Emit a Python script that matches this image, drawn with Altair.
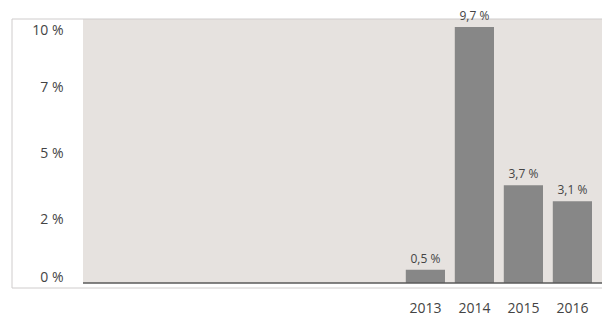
import altair as alt
import pandas as pd

years = ["2013", "2014", "2015", "2016"]
values = [0.5, 9.7, 3.7, 3.1]
y_ticks = [0, 2.5, 5, 7.5, 10]

df = pd.DataFrame({"year": years, "value": values})

W, H = 519, 264
FONT = "Open Sans"
TXT = "#444444"

xscale = alt.Scale(domain=years, paddingInner=0.2, paddingOuter=0, range=[322.8, 509])
yscale = alt.Scale(domain=[0, 10], nice=False)

frame = alt.Chart(pd.DataFrame({"k": [0]})).mark_rect(
    fillOpacity=0, stroke="#cfcccc", strokeWidth=1
).encode(
    x=alt.value(-71), x2=alt.value(W + 40), y=alt.value(0), y2=alt.value(H + 5)
)

base = alt.Chart(df).encode(
    x=alt.X("year:N", scale=xscale, sort=years,
            axis=alt.Axis(title=None, labelAngle=0, ticks=False, domain=False,
                          labelFontSize=14, labelColor=TXT, labelFont=FONT,
                          labelPadding=18)),
    y=alt.Y("value:Q", scale=yscale,
            axis=alt.Axis(title=None, values=y_ticks, grid=False, ticks=False, tickSize=0,
                          domain=False, labelExpr="floor(datum.value) + ' %'",
                          labelFontSize=14, labelColor=TXT, labelFont=FONT,
                          labelPadding=20, labelFlush=False,
                          labelOffset={"condition": [
                              {"test": "datum.value === 10", "value": 11},
                              {"test": "datum.value === 0", "value": -6}],
                              "value": 2})),
)

baseline = alt.Chart(pd.DataFrame({"k": [0]})).mark_rule(
    color="#5a5a5a", strokeWidth=1.5
).encode(x=alt.value(0), x2=alt.value(W), y=alt.value(H))

bars = base.mark_bar(color="#878787")

labels = base.transform_calculate(
    lbl="replace(format(datum.value, '.1f'), '.', ',') + ' %'"
).mark_text(baseline="bottom", dy=-4, fontSize=12, color=TXT, font=FONT).encode(
    text="lbl:N"
)

chart = alt.layer(frame, bars, baseline, labels).properties(
    width=W, height=H,
    autosize=alt.AutoSizeParams(type="none"),
    padding={"left": 75, "top": 11, "right": 0, "bottom": 35},
).configure_view(fill="#e6e2df", stroke=None)

chart.save("out.html", embed_options={"renderer": "svg", "actions": False})
